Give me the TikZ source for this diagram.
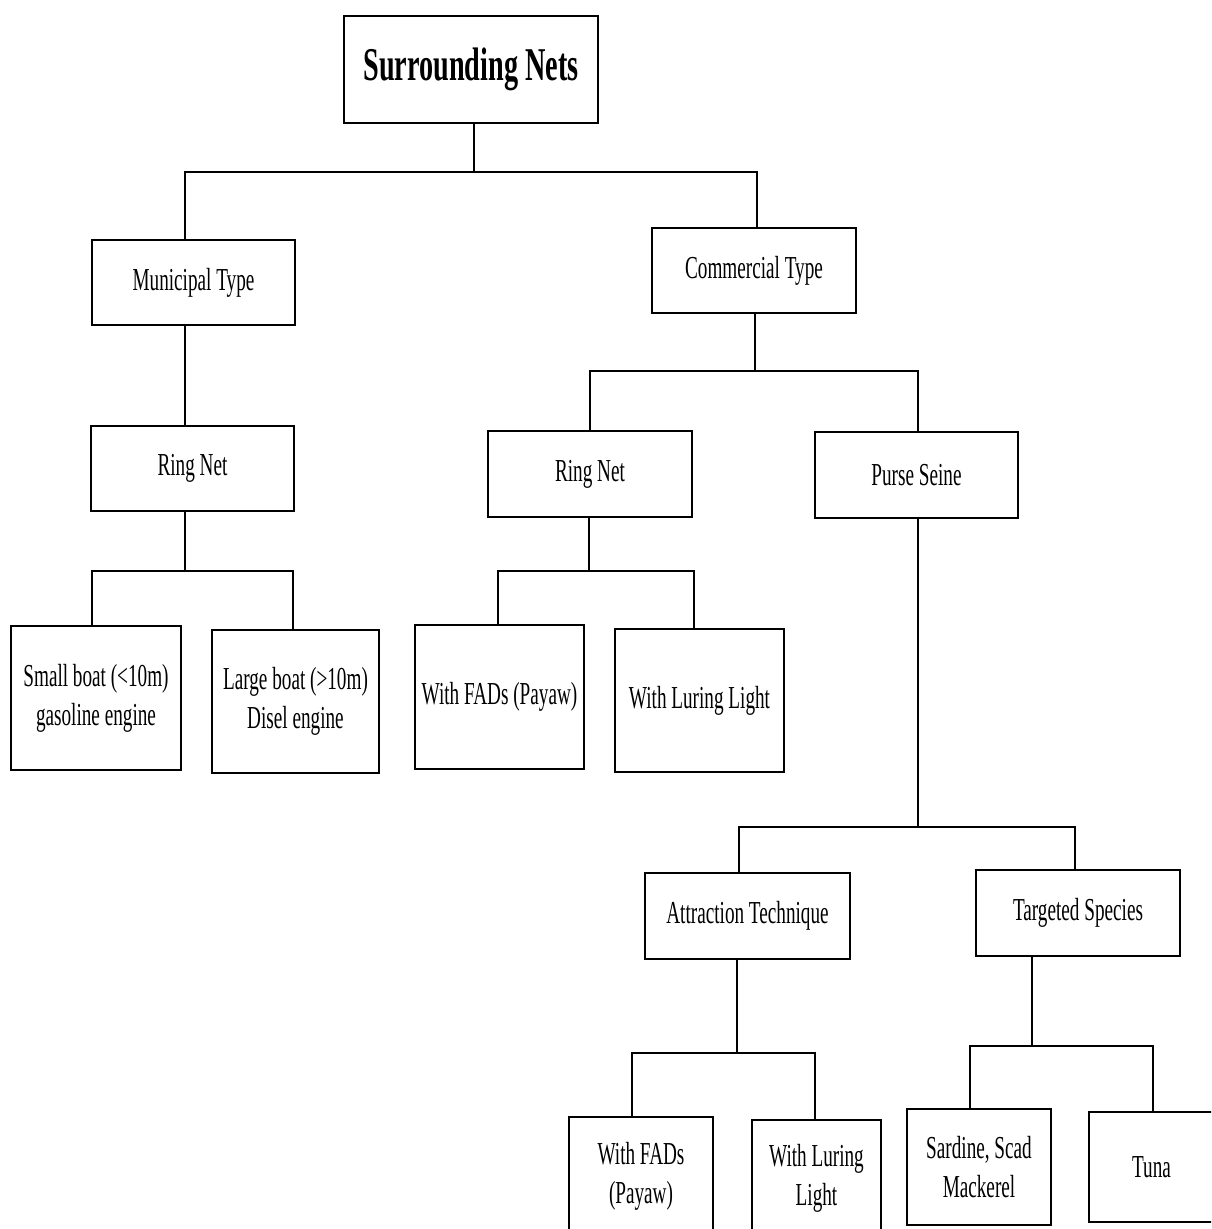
\documentclass[tikz,border=0pt]{standalone}
\usepackage{fontspec}
\setmainfont[FakeStretch=0.6]{Liberation Serif}
\begin{document}
\begin{tikzpicture}[x=1pt,y=-1pt,
  box/.style={draw=black,line width=2.2pt,fill=white,align=center,inner sep=0pt,
    font=\fontsize{32}{39}\selectfont,text=black},
  conn/.style={draw=black,line width=2pt}]
\useasboundingbox (0,0) rectangle (1211,1229);
\clip (0,0) rectangle (1211,1229);
\coordinate (j1) at (474,172);
\coordinate (j2) at (185,571);
\coordinate (j3) at (755,371);
\coordinate (j4) at (589,571);
\coordinate (j5) at (918,827);
\coordinate (j6) at (737,1053);
\coordinate (j7) at (1032,1046);
\node[box,minimum width=254pt,minimum height=107pt,font=\fontsize{47}{50}\selectfont\bfseries] (top) at (471,69.5) {Surrounding Nets};
\node[box,minimum width=203pt,minimum height=85pt] (mun) at (193.5,282.5) {Municipal Type};
\node[box,minimum width=204pt,minimum height=85pt] (com) at (754,270.5) {Commercial Type};
\node[box,minimum width=203pt,minimum height=85pt] (rn1) at (192.5,468.5) {Ring Net};
\node[box,minimum width=170pt,minimum height=144pt] (small) at (96,698) {Small boat (<10m)\\gasoline engine};
\node[box,minimum width=167pt,minimum height=143pt] (large) at (295.5,701.5) {Large boat (>10m)\\Disel engine};
\node[box,minimum width=204pt,minimum height=86pt] (rn2) at (590,474) {Ring Net};
\node[box,minimum width=203pt,minimum height=86pt] (ps) at (916.5,475) {Purse Seine};
\node[box,minimum width=169pt,minimum height=144pt] (fads1) at (499.5,697) {With FADs (Payaw)};
\node[box,minimum width=169pt,minimum height=143pt] (lur1) at (699.5,700.5) {With Luring Light};
\node[box,minimum width=205pt,minimum height=86pt] (att) at (747.5,916) {Attraction Technique};
\node[box,minimum width=204pt,minimum height=86pt] (tgt) at (1078,913) {Targeted Species};
\node[box,minimum width=144pt,minimum height=119pt] (fads2) at (641,1176.5) {With FADs\\(Payaw)};
\node[box,minimum width=129pt,minimum height=116pt] (lur2) at (816.5,1178) {With Luring\\Light};
\node[box,minimum width=144pt,minimum height=116pt] (sard) at (979,1167) {Sardine, Scad\\Mackerel};
\node[box,minimum width=125pt,minimum height=110pt] (tuna) at (1151.5,1167) {Tuna};
\draw[conn] ([xshift=3pt]top.south) -- (j1);
\draw[conn] ([xshift=-8.5pt]mun.north) |- (j1) -| ([xshift=3pt]com.north);
\draw[conn] ([xshift=-8.5pt]mun.south) -- ([xshift=-8.5pt]mun.south |- rn1.north);
\draw[conn] ([xshift=-7.5pt]rn1.south) -- (j2);
\draw[conn] ([xshift=-4pt]small.north) |- (j2) -| ([xshift=-2.5pt]large.north);
\draw[conn] ([xshift=1pt]com.south) -- (j3);
\draw[conn] (rn2.north) |- (j3) -| ([xshift=1.5pt]ps.north);
\draw[conn] ([xshift=-1pt]rn2.south) -- (j4);
\draw[conn] ([xshift=-1.5pt]fads1.north) |- (j4) -| ([xshift=-5.5pt]lur1.north);
\draw[conn] ([xshift=1.5pt]ps.south) -- (j5);
\draw[conn] ([xshift=-8.5pt]att.north) |- (j5) -| ([xshift=-3pt]tgt.north);
\draw[conn] ([xshift=-10.5pt]att.south) -- (j6);
\draw[conn] ([xshift=-9pt]fads2.north) |- (j6) -| ([xshift=-1.5pt]lur2.north);
\draw[conn] ([xshift=-46pt]tgt.south) -- (j7);
\draw[conn] ([xshift=-9pt]sard.north) |- (j7) -| ([xshift=1.5pt]tuna.north);
\end{tikzpicture}
\end{document}
